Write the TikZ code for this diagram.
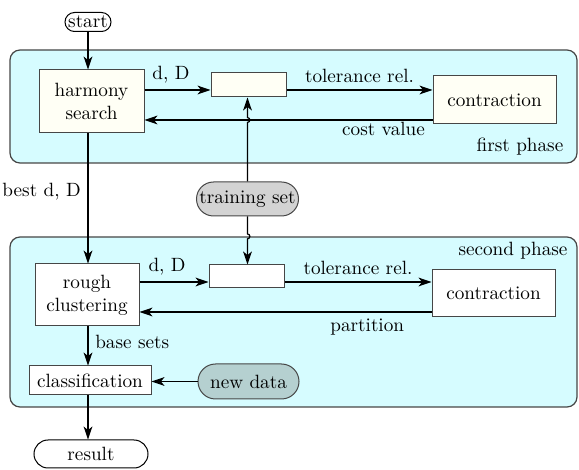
\documentclass[tikz,border=0pt]{standalone}
\usetikzlibrary{arrows.meta,shapes.misc,calc}

\definecolor{phasecyan}{RGB}{214,252,255}
\definecolor{boxivory}{RGB}{255,255,245}
\definecolor{traingray}{RGB}{211,211,211}
\definecolor{datagray}{RGB}{181,208,208}
\definecolor{edgegray}{RGB}{70,70,70}

\tikzset{
	phase/.style={draw=edgegray, line width=0.6pt, fill=phasecyan, rounded corners=5pt, inner sep=0pt},
	box/.style={draw=edgegray, line width=0.5pt, fill=white, align=center, inner sep=1pt},
	term/.style={draw=black, line width=0.5pt, fill=white, rounded rectangle, inner sep=1pt},
	arr/.style={-{Stealth[length=6.5pt,width=4.4pt,inset=1.8pt]}, line width=0.6pt},
}

\begin{document}
\begin{tikzpicture}[x=0.5pt, y=-0.5pt, font=\fontsize{9.6}{11.5}\selectfont]
			%%%%% START %%%%%
			\useasboundingbox (0,0) rectangle (579,470);
			
			\node[phase, minimum width=283.5pt, minimum height=56.5pt] (phase1) at (293.5, 106.5) {};
			\node[phase, minimum width=283.5pt, minimum height=85pt] (phase2) at (293.5, 322) {};
			\node (firstlbl) at (520, 147) {first phase};
			\node (secondlbl) at (513, 251) {second phase};
			
			\coordinate (spine) at (88, 0);
			\coordinate (r1a) at (0, 90);
			\coordinate (r1b) at (0, 120);
			\coordinate (r2a) at (0, 282);
			\coordinate (r2b) at (0, 312);
			
			\node[term, minimum width=25pt, minimum height=9.5pt] (start) at (88, 22) {start};
			\node[box, fill=boxivory, minimum width=52.5pt, minimum height=31.5pt] (harmony) at (91.5, 101.5) {harmony\\search};
			\node[box, fill=boxivory, minimum width=37.5pt, minimum height=12pt] (tol1) at (248.5, 85) {};
			\node[box, fill=boxivory, minimum width=61.5pt, minimum height=24pt] (con1) at (494.5, 100) {contraction};
			
			\node[term, draw=edgegray, fill=traingray, minimum width=53pt, minimum height=17pt] (train) at (247.5, 199) {training set};
			
			\node[box, minimum width=52pt, minimum height=31pt] (rough) at (87, 295) {rough\\clustering};
			\node[box, minimum width=37.5pt, minimum height=11.5pt] (tol2) at (246.5, 276.5) {};
			\node[box, minimum width=61.5pt, minimum height=23.5pt] (con2) at (493.5, 293.5) {contraction};
			\node[box, minimum width=61pt, minimum height=14.5pt] (classif) at (90, 380.5) {classification};
			\node[term, draw=edgegray, fill=datagray, minimum width=52.5pt, minimum height=17.5pt] (newdata) at (248.5, 381.5) {new data};
			\node[term, minimum width=59pt, minimum height=14pt] (result) at (91, 454) {result};
			
			% first phase
			\draw[arr] (start.south -| spine) -- (harmony.north -| spine);
			\draw[arr] (harmony.east |- r1a) -- node[above, pos=0.4] {d, D} (tol1.west |- r1a);
			\draw[arr] (tol1.east |- r1a) -- node[above] {tolerance rel.} (con1.west |- r1a);
			\draw[arr] (con1.west |- r1b) -- node[below, pos=0.17, inner sep=1pt] {cost value} (harmony.east |- r1b);
			\draw[arr] (train.north) -- ([yshift=-1.2pt]train.north |- r1b) arc[start angle=-90, end angle=90, radius=1.2pt] -- (tol1.south -| train.north);
			
			\draw[arr] (harmony.south -| spine) -- node[left, pos=0.45] {best d, D} (rough.north -| spine);
			
			% second phase
			\draw[arr] (train.south) -- ([yshift=1.2pt]train.south |- phase2.north) arc[start angle=90, end angle=-90, radius=1.2pt] -- (tol2.north -| train.south);
			\draw[arr] (rough.east |- r2a) -- node[above, pos=0.4] {d, D} (tol2.west |- r2a);
			\draw[arr] (tol2.east |- r2a) -- node[above] {tolerance rel.} (con2.west |- r2a);
			\draw[arr] (con2.west |- r2b) -- node[below, pos=0.22] {partition} (rough.east |- r2b);
			\draw[arr] (rough.south -| spine) -- node[right, pos=0.4] {base sets} (classif.north -| spine);
			\draw[arr] (newdata.west) -- (newdata.west -| classif.east);
			\draw[arr] (classif.south -| spine) -- (result.north -| spine);
			
			%%%%% END %%%%%
		\end{tikzpicture}
\end{document}
